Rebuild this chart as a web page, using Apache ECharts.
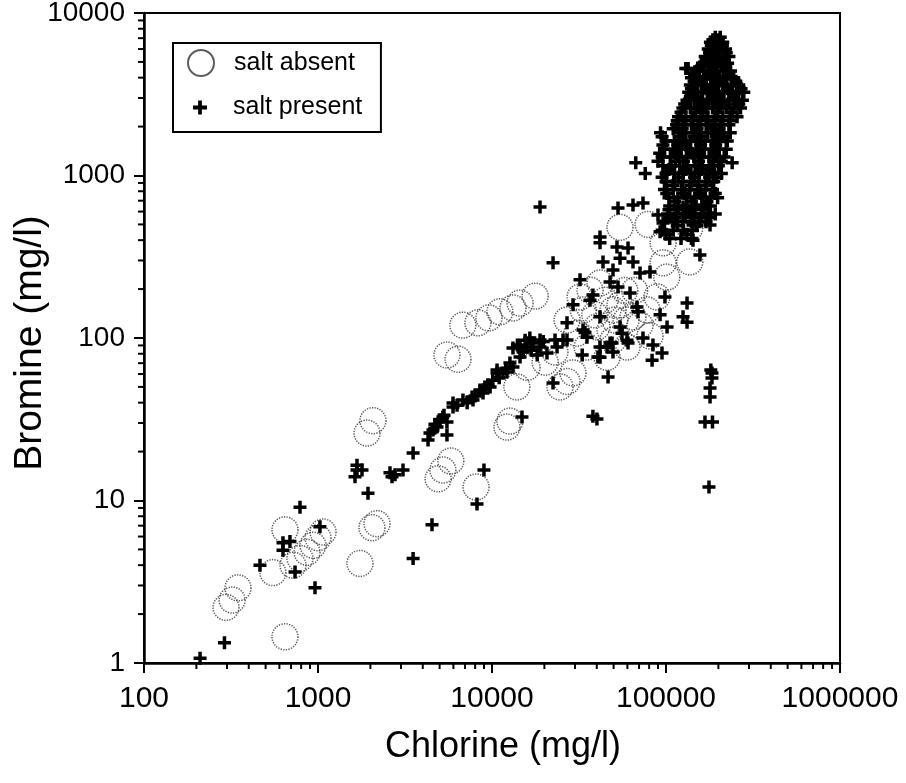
<!DOCTYPE html>
<html>
<head>
<meta charset="utf-8">
<script src="https://cdn.jsdelivr.net/npm/echarts@6/dist/echarts.min.js"></script>
<style>
html,body{margin:0;padding:0;background:#fff;}
#chart{width:906px;height:783px;}
</style>
</head>
<body>
<div id="chart"></div>
<script>
// ---- data (Chlorine mg/l, Bromine mg/l) ----
const saltAbsent = [
  [296,2.2],[321,2.44],[347,2.9],[551,3.6],[646,6.6],[646,1.45],
  [1069,6.4],[1000,5.9],[936,5.3],[865,4.8],[788,4.4],[718,4.0],
  [1743,4.1],[2183,7.2],[2043,6.8],[2070,31],[1913,26],
  [5510,78.6],[6380,74],[4900,13.6],[5220,15.4],[5800,17.5],[8100,12.1],[12190,28.3],[12680,30.8],
  [6800,120],[8300,124],[9600,133],[11100,145],[13200,153],[14500,164],[17700,181],
  [15900,66],[13900,50],[29200,61],[27000,54],[24600,50],[20200,71],[23000,82],
  [54400,480],[78900,500],[96200,385],[137000,294],[96200,290],[101000,237],[88700,179],
  [77800,149],[64600,135],[49600,149],[41800,218],[36600,197],[32100,179],[33400,149],
  [40100,117],[49600,97],[59700,88],[45800,76],[35200,88],[30800,107],[27000,129],
  [44600,171],[54400,160],[59000,129],[70900,120],[80900,103],[66000,196],[50800,129],
  [39000,139],[47700,112],[58000,196],[137000,475]
];

const saltPresentLow = [
  [210,1.07],[290,1.33],[464,4.0],[629,4.95],[629,5.5],[690,5.6],[738,3.63],[788,9.1],[1026,6.9],[961,2.9],
  [1632,14.0],[1675,16.5],[1675,15.4],[1790,15.4],[1938,11.1],
  [2592,14.8],[2663,14.0],[2770,14.4],[3080,15.4],[3520,19.6],[4520,7.1],[3520,4.4],[8990,15.4],[8200,9.5]
];

const saltPresentBand = [
  [4290,23.6],[4400,26.0],[4580,27.2],[4830,28.3],[5020,31.3],[5220,32.6],[5510,30.4],[5510,25.3],
  [5970,37.6],[5970,39.8],[6810,41.5],[7680,43.4],[7780,41.5],[8530,47.9],[8880,45.9],[9480,51.4],
  [9750,49.9],[10690,60.9],[10690,63.6],[11570,60.9],[12190,61.8],[12680,70.2],[13200,66.4],
  [13200,86.8],[14490,88.1],[15890,88.1],[17200,93.1],[18880,88.1],[18880,97.3],[20700,80.9],
  [23030,97.3],[23650,88.1],[25600,97.3],[14000,90.6],[15100,82],[16500,100],[18200,78.6],
  [19700,95],[15500,97],[14490,76.4],[16800,84],
  [4700,29.5],[5300,33.5],[6300,38.5],[7200,40],[8000,44],[9100,50],[10100,55],[11000,57],[12000,65],
  [14870,32.6],[22430,52.8],[18880,640],[22430,290],[38020,33.0],[40090,31.7]
];

const saltPresentMid = [
  [26980,124],[29230,160],[32060,228],[33350,112],[35150,101],[38020,184],[36560,171],
  [41760,419],[41760,385],[41760,135],[41760,88],[41760,76],[43450,294],[45820,88],[46450,57.5],
  [47700,221],[47700,93],[49590,262],[49590,82],[52270,363],[52990,631],[52990,206],[54430,310],
  [54430,117],[55880,107],[59730,97],[60520,358],[60520,93],[62130,189],[64620,658],[64620,294],
  [68110,155],[69040,145],[70920,251],[73770,677],[73770,100],[80910,255],[83180,73],[84140,90.6],
  [89950,571],[92470,139],[94840,80.9],[96160,510],[98630,179],[101400,117],[109600,532],
  [125300,640],[125300,135],[132100,164],[132100,125],[137400,588],[142900,496],[142900,400],
  [156700,324],[161100,658],[179100,588],[179100,496],[92470,450],
  [26980,97.3],[34230,108],[33000,78.6],[40600,76.4],[48960,93],
  [183700,60.9],[181000,63.6],[183700,56.8],[179100,49.2],[179100,43.4],[167500,30.4],[185000,30.4],[176600,12.1]
];

const saltPresentHigh = [
  [192000,7100],[205000,7100],
  [180000,6600],[196000,6600],[212000,6600],
  [175000,6000],[188000,6000],[203000,6000],[220000,6000],
  [168000,5400],[182000,5400],[197000,5400],[214000,5400],[230000,5400],
  [162000,4900],[176000,4900],[192000,4900],[208000,4900],[226000,4900],
  [130000,4550],[134000,4550],
  [150000,4400],[165000,4400],[180000,4400],[196000,4400],[214000,4400],[235000,4400],
  [140000,4000],[155000,4000],[170000,4000],[186000,4000],[203000,4000],[222000,4000],[245000,4000],
  [138000,3600],[152000,3600],[166000,3600],[182000,3600],[200000,3600],[218000,3600],[240000,3600],[262000,3600],
  [135000,3250],[148000,3250],[162000,3250],[178000,3250],[195000,3250],[214000,3250],[235000,3250],[258000,3250],[280000,3250],
  [132000,2900],[145000,2900],[160000,2900],[175000,2900],[192000,2900],[210000,2900],[230000,2900],[252000,2900],[275000,2900],
  [125000,2600],[138000,2600],[152000,2600],[168000,2600],[185000,2600],[202000,2600],[222000,2600],[245000,2600],[268000,2600],
  [118000,2300],[130000,2300],[143000,2300],[158000,2300],[174000,2300],[192000,2300],[212000,2300],[234000,2300],[256000,2300],
  [115000,2050],[127000,2050],[140000,2050],[155000,2050],[170000,2050],[188000,2050],[208000,2050],[230000,2050],
  [93000,1830],[118000,1830],[130000,1830],[144000,1830],[158000,1830],[174000,1830],[192000,1830],[212000,1830],[234000,1830],
  [100000,1630],[112000,1630],[125000,1630],[138000,1630],[152000,1630],[168000,1630],[185000,1630],[204000,1630],[225000,1630],
  [98000,1450],[110000,1450],[122000,1450],[135000,1450],[150000,1450],[166000,1450],[183000,1450],[202000,1450],[222000,1450],
  [95000,1300],[106000,1300],[118000,1300],[131000,1300],[145000,1300],[160000,1300],[177000,1300],[196000,1300],[216000,1300],
  [67000,1200],[240000,1200],
  [96000,1150],[107000,1150],[120000,1150],[133000,1150],[147000,1150],[162000,1150],[180000,1150],[200000,1150],
  [76000,1030],[100000,1030],[112000,1030],[125000,1030],[139000,1030],[154000,1030],[170000,1030],[188000,1030],[208000,1030],
  [100000,920],[112000,920],[125000,920],[139000,920],[154000,920],[170000,920],[188000,920],
  [98000,820],[110000,820],[123000,820],[137000,820],[152000,820],[168000,820],[185000,820],
  [104000,730],[117000,730],[131000,730],[146000,730],[162000,730],[180000,730],[198000,730],
  [105000,650],[118000,650],[132000,650],[147000,650],[163000,650],[180000,650],
  [102000,580],[115000,580],[129000,580],[144000,580],[160000,580],[176000,580],[192000,580],
  [98000,520],[111000,520],[125000,520],[140000,520],[156000,520],[170000,520],
  [95000,460],[110000,460],[126000,460],[142000,460],
  [105000,410],[122000,410],[140000,410]
];

const saltPresentHigh2 = [
  [186000,6850],[200000,6850],
  [182000,6300],[211000,6300],
  [178000,5700],[192000,5700],[222000,5700],
  [170000,5150],[200000,5150],[217000,5150],
  [156000,4650],[185000,4650],[218000,4650],
  [146000,4200],[175000,4200],[191000,4200],[228000,4200],
  [145000,3800],[160000,3800],[192000,3800],[210000,3800],[252000,3800],
  [140000,3420],[170000,3420],[187000,3420],[225000,3420],[270000,3420],
  [138000,3070],[152000,3070],[184000,3070],[202000,3070],[245000,3070],
  [128000,2750],[155000,2750],[170000,2750],[206000,2750],[226000,2750],[262000,2750],
  [122000,2450],[148000,2450],[163000,2450],[198000,2450],[240000,2450],
  [116000,2170],[141000,2170],[172000,2170],[190000,2170],[232000,2170],
  [110000,1940],[124000,1940],[151000,1940],[183000,1940],[202000,1940],
  [95000,1730],[119000,1730],[145000,1730],[160000,1730],[195000,1730],[215000,1730],
  [96000,1540],[117000,1540],[130000,1540],[158000,1540],[193000,1540],
  [92000,1370],[115000,1370],[141000,1370],[156000,1370],[190000,1370],
  [90000,1225],[113000,1225],[126000,1225],[154000,1225],[188000,1225],[208000,1225],
  [104000,1090],[130000,1090],[160000,1090],[178000,1090],
  [95000,975],[118000,975],[146000,975],[178000,975],[196000,975],
  [110000,870],[139000,870],[170000,870],
  [101000,775],[128000,775],[158000,775],[192000,775],
  [112000,690],[140000,690],[172000,690],
  [104000,615],[131000,615],[162000,615],
  [112000,550],[141000,550],[176000,550],
  [116000,490],[150000,490],
  [100000,435],[132000,435]
];

const saltPresent = saltPresentLow.concat(saltPresentBand, saltPresentMid, saltPresentHigh, saltPresentHigh2);

// axis tick values
const xMajor = [100, 1000, 10000, 100000, 1000000];
const yMajor = [1, 10, 100, 1000, 10000];
const xMinor = [200,300,400,500,600,700,800,900,2000,3000,4000,5000,6000,7000,8000,9000,
  20000,30000,40000,50000,60000,70000,80000,90000,200000,300000,400000,500000,600000,700000,800000,900000];
const yMinor = [2,3,4,5,6,7,8,9,20,30,40,50,60,70,80,90,200,300,400,500,600,700,800,900,
  2000,3000,4000,5000,6000,7000,8000,9000];

const FONT = "'Liberation Sans', Arial, Helvetica, sans-serif";
const PLUS = 'path://M4.75,0h3.5v4.75h4.75v3.5h-4.75v4.75h-3.5v-4.75h-4.75v-3.5h4.75z';

const chart = echarts.init(document.getElementById('chart'), null, {renderer: 'canvas'});

function minorX(params, api) {
  const p = api.coord([api.value(0), yMajor[0]]);
  return {type: 'line', shape: {x1: p[0], y1: p[1], x2: p[0], y2: p[1] + 6},
    style: {stroke: '#000', lineWidth: 2}};
}
function minorY(params, api) {
  const p = api.coord([xMajor[0], api.value(1)]);
  return {type: 'line', shape: {x1: p[0] - 6, y1: p[1], x2: p[0], y2: p[1]},
    style: {stroke: '#000', lineWidth: 2}};
}

chart.setOption({
  animation: false,
  backgroundColor: '#fff',
  grid: {left: 144, right: 66, top: 13, bottom: 120, show: true, borderColor: '#000', borderWidth: 2,
    containLabel: false, outerBoundsMode: 'none'},
  xAxis: {
    type: 'log', logBase: 10, min: 100, max: 1000000,
    name: 'Chlorine (mg/l)', nameLocation: 'middle', nameGap: 66, nameMoveOverlap: false,
    nameTextStyle: {fontSize: 36, fontFamily: FONT, color: '#000', padding: [0, 0, 0, 22]},
    axisLine: {lineStyle: {color: '#000', width: 2.5}},
    axisTick: {show: true, length: 10, lineStyle: {color: '#000', width: 2}},
    axisLabel: {fontSize: 30, fontFamily: FONT, color: '#000', margin: 21,
      formatter: v => String(Math.round(v))},
    splitLine: {show: false}
  },
  yAxis: {
    type: 'log', logBase: 10, min: 1, max: 10000,
    name: 'Bromine (mg/l)', nameLocation: 'middle', nameGap: 94, nameMoveOverlap: false,
    nameTextStyle: {fontSize: 39, fontFamily: FONT, color: '#000', padding: [0, 10, 0, 0]},
    axisLine: {lineStyle: {color: '#000', width: 2.5}},
    axisTick: {show: true, length: 10, lineStyle: {color: '#000', width: 2}},
    axisLabel: {fontSize: 28, fontFamily: FONT, color: '#000', margin: 19,
      formatter: v => String(Math.round(v))},
    splitLine: {show: false}
  },
  legend: [
    {
      data: ['salt absent'], left: 173, top: 43, orient: 'vertical',
      padding: [6, 26, 55, 14], itemWidth: 26, itemHeight: 26,
      borderColor: '#000', borderWidth: 2, selectedMode: false,
      textStyle: {fontSize: 25, fontFamily: FONT, color: '#000', padding: [0, 0, 0, 15]}
    },
    {
      data: ['salt present'], left: 173, top: 95, orient: 'vertical',
      padding: [0, 0, 0, 20], itemWidth: 14, itemHeight: 14, selectedMode: false,
      textStyle: {fontSize: 25, fontFamily: FONT, color: '#000', padding: [0, 0, 0, 21]}
    }
  ],
  series: [
    {
      name: 'salt absent', type: 'scatter', data: saltAbsent, symbol: 'circle', symbolSize: 26,
      itemStyle: {color: 'rgba(255,255,255,0)', borderColor: '#333', borderWidth: 1.5, borderType: [1.3, 1.3]},
      z: 2
    },
    {
      name: 'salt present', type: 'scatter', data: saltPresent, symbol: PLUS, symbolSize: 13,
      itemStyle: {color: '#000', opacity: 1}, z: 3
    },
    {type: 'custom', data: xMinor.map(v => [v, yMajor[0]]), renderItem: minorX, silent: true, z: 5, clip: false},
    {type: 'custom', data: yMinor.map(v => [xMajor[0], v]), renderItem: minorY, silent: true, z: 5, clip: false}
  ]
});
</script>
</body>
</html>
